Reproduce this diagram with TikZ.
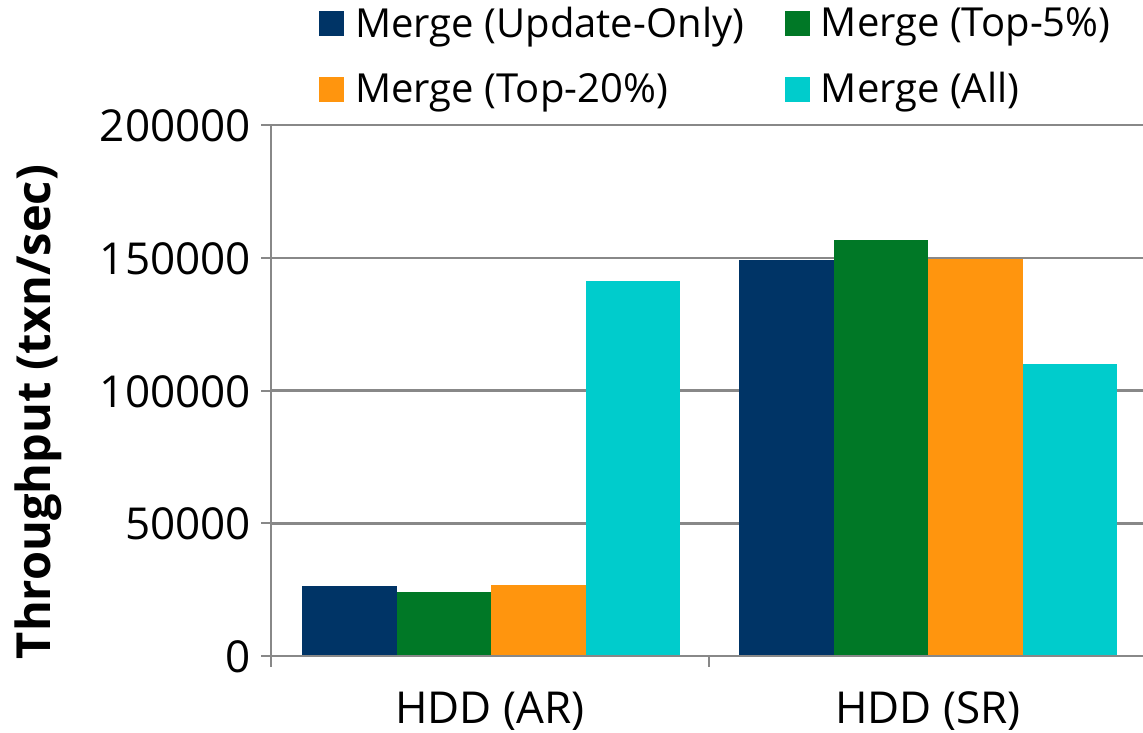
\documentclass[tikz,border=0pt]{standalone}
\usepackage{fontspec}
\setmainfont{Open Sans}
\usetikzlibrary{positioning}

\definecolor{updonly}{RGB}{0,52,102}
\definecolor{topfive}{RGB}{0,120,38}
\definecolor{toptwenty}{RGB}{255,149,14}
\definecolor{mergeall}{RGB}{0,204,204}
\definecolor{gridgray}{RGB}{136,136,136}

\begin{document}
\begin{tikzpicture}[x=1pt,y=-1pt,
  gridline/.style={draw=gridgray,line width=2.5pt},
  axisline/.style={draw=gridgray,line width=2pt},
  ticklabel/.style={font=\fontsize{44}{50}\selectfont,anchor=east,inner sep=0pt},
  catlabel/.style={font=\fontsize{44}{50}\selectfont,inner sep=0pt},
  legkey/.style={minimum width=25pt,minimum height=25pt,inner sep=0pt},
  legtext/.style={font=\fontsize{40}{45}\selectfont,inner sep=0pt,anchor=west,yshift=-3pt}]
\useasboundingbox (0,0) rectangle (1143,733);

% data part: origin at the zero line, one unit up = 1000 txn/sec
\begin{scope}[shift={(271,656)},x=1pt,y=2.655pt]
% gridlines
\draw[gridline] (0,50) -- (880,50);
\draw[gridline] (0,100) -- (880,100);
\draw[gridline] (0,150) -- (880,150);
\draw[gridline] (0,200) -- (880,200);
% HDD (AR)
\fill[updonly] (31,0) rectangle (125.5,26.4);
\fill[topfive] (125.5,0) rectangle (220,24.1);
\fill[toptwenty] (220,0) rectangle (314.5,26.7);
\fill[mergeall] (314.5,0) rectangle (409,141.2);
% HDD (SR)
\fill[updonly] (468,0) rectangle (562.5,149.3);
\fill[topfive] (562.5,0) rectangle (657,156.7);
\fill[toptwenty] (657,0) rectangle (751.5,149.5);
\fill[mergeall] (751.5,0) rectangle (846,110.0);
\end{scope}

% axes and ticks
\draw[axisline] (271,125) -- (271,667);
\draw[axisline] (261,656) -- (1143,656);
\draw[axisline] (261,125) -- (271,125);
\draw[axisline] (261,257.75) -- (271,257.75);
\draw[axisline] (261,390.5) -- (271,390.5);
\draw[axisline] (261,523.25) -- (271,523.25);
\draw[axisline] (709,656) -- (709,667);

% tick labels
\node[ticklabel] (y200) at (251,126) {200000};
\node[ticklabel] (y150) at (251,258.75) {150000};
\node[ticklabel] (y100) at (251,391.5) {100000};
\node[ticklabel] (y50) at (251,524.25) {50000};
\node[ticklabel] (y0) at (251,657) {0};

% axis title
\node[rotate=90,font=\bfseries\fontsize{47}{52}\selectfont,inner sep=0pt] (ytitle) at (38,412) {Throughput (txn/sec)};

% categories
\node[catlabel] (catar) at (490,711) {HDD (AR)};
\node[catlabel] (catsr) at (928,711) {HDD (SR)};

% legend
\node[legkey,fill=updonly] (keyupd) at (331.5,24) {};
\node[legtext,right=11pt of keyupd] (txtupd) {Merge (Update-Only)};
\node[legkey,fill=topfive] (keyfive) at (797,24) {};
\node[legtext,right=11pt of keyfive] (txtfive) {Merge (Top-5\%)};
\node[legkey,fill=toptwenty] (keytwenty) at (331.5,89.5) {};
\node[legtext,right=11pt of keytwenty] (txttwenty) {Merge (Top-20\%)};
\node[legkey,fill=mergeall] (keyall) at (797,89.5) {};
\node[legtext,right=11pt of keyall] (txtall) {Merge (All)};
\end{tikzpicture}
\end{document}
